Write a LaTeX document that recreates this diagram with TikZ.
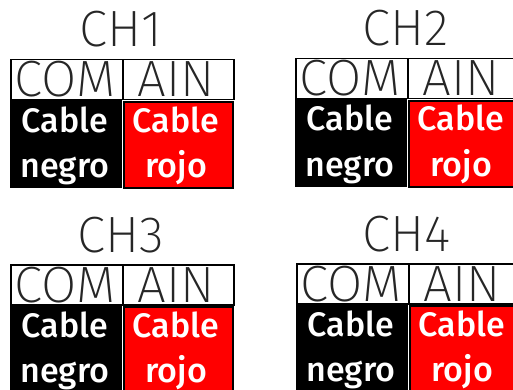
\documentclass[tikz,border=0pt]{standalone}
\usepackage{fontspec}
\newfontfamily\lightfont{Fira Sans ExtraLight}
\newfontfamily\boldfont{Fira Sans Medium}
\definecolor{cablered}{RGB}{255,0,0}
\tikzset{
  hdrcell/.style={draw=black, line width=1.5pt, fill=white},
  negrocell/.style={fill=black},
  rojocell/.style={fill=cablered, draw=black, line width=2pt},
  chlabel/.style={anchor=base, inner sep=0pt, font=\lightfont\fontsize{51}{51}\selectfont, text=black!85},
  hdrlabel/.style={anchor=base, inner sep=0pt, font=\lightfont\fontsize{51}{51}\selectfont, text=black!85},
  cablelabel/.style={anchor=base, inner sep=0pt, font=\boldfont\fontsize{34}{34}\selectfont, text=white},
}
\newcommand{\chblock}[3]{%
  \begin{scope}[shift={(#1,#2)}]
    \node[hdrcell, minimum width=112pt, minimum height=40pt, anchor=north west, inner sep=0pt] (com#3) at (0,0) {};
    \node[hdrcell, minimum width=111pt, minimum height=40pt, anchor=north west, inner sep=0pt] (ain#3) at (112,0) {};
    \fill[negrocell] (0,41) rectangle (112,129);
    \node[rojocell, minimum width=109pt, minimum height=86pt, anchor=north west, inner sep=0pt] (rojo#3) at (113,42) {};
    \node[chlabel] (ch#3) at (111,-12) {CH#3};
    \node[hdrlabel] (comt#3) at (55,38) {COM};
    \node[hdrlabel] (aint#3) at (166,38) {AIN};
    \node[cablelabel] (cn#3) at (55,73) {Cable};
    \node[cablelabel] (ng#3) at (55,118) {negro};
    \node[cablelabel] (cr#3) at (166,73) {Cable};
    \node[cablelabel] (rj#3) at (166,118) {rojo};
  \end{scope}}
\begin{document}
\begin{tikzpicture}[x=1pt, y=-1pt]
  \useasboundingbox (0,0) rectangle (513,390);
  \clip (0,0) rectangle (513,390);
  \chblock{10}{59}{1}
  \chblock{295}{58}{2}
  \chblock{10}{264}{3}
  \chblock{296}{263}{4}
\end{tikzpicture}
\end{document}
